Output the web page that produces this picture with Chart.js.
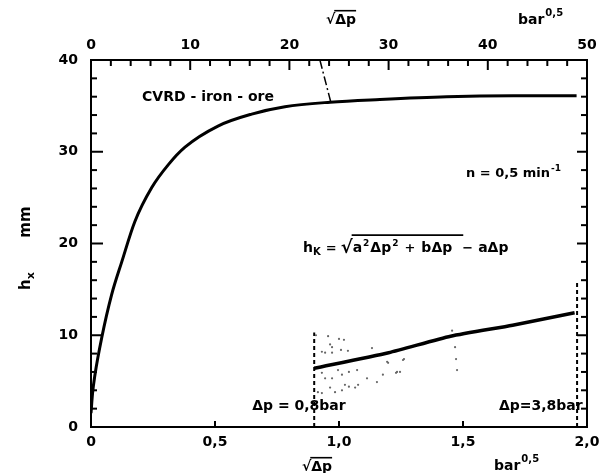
<!doctype html>
<html>
<head>
    <title>CVRD iron ore</title>
    <script src="https://cdn.jsdelivr.net/npm/chart.js"></script>
    <style>
        body { margin: 0; background: #fff; }
        #caixa { position: relative; width: 606px; height: 473px; }
    </style>
</head>
<body>
    <div id="caixa"><canvas id="grafico"></canvas></div>

    <script>
        // curva CVRD - iron - ore (eixo inferior sqrt(dp) em bar^0,5, h em mm)
        var curvaX = [0, 0.006, 0.016, 0.043, 0.083, 0.124, 0.177, 0.245, 0.312, 0.379, 0.512, 0.648, 0.782, 0.964, 1.165, 1.434, 1.702, 1.958];
        var curvaH = [1.5, 3.6, 5.7, 9.7, 14.4, 18.0, 22.4, 26.1, 28.6, 30.5, 32.8, 34.1, 34.9, 35.4, 35.7, 36.0, 36.1, 36.1];

        // reta de ajuste entre dp = 0,8 bar e dp = 3,8 bar
        var retaX = [0.9, 1.2, 1.45, 1.7, 1.95];
        var retaH = [6.4, 8.1, 9.9, 11.1, 12.45];

        // pontos medidos (nuvem cinza)
        var pontosX = [0.907, 0.956, 1.0, 1.02, 0.964, 0.972, 0.931, 0.944, 0.972, 1.008, 1.036, 1.133, 0.996, 1.04, 1.073, 0.931, 0.944, 0.972, 1.012, 1.113, 1.153, 1.177, 1.198, 1.23, 1.246, 1.262, 1.077, 1.065, 1.04, 1.024, 1.012, 0.984, 0.964, 0.931, 0.915, 1.456, 1.468, 1.472, 1.476, 1.194, 1.258, 1.234];
        var pontosH = [10.0, 9.9, 9.6, 9.5, 9.0, 8.7, 8.2, 8.1, 8.1, 8.4, 8.3, 8.6, 6.2, 6.0, 6.2, 5.9, 5.3, 5.3, 5.7, 5.3, 4.9, 5.7, 7.0, 5.9, 6.0, 7.4, 4.6, 4.3, 4.4, 4.6, 4.0, 3.8, 4.3, 3.7, 3.8, 10.5, 8.7, 7.4, 6.2, 7.1, 7.3, 6.0];

        // linhas tracejadas verticais e linha de chamada
        var limiteEsqX = [0.9, 0.9];
        var limiteEsqH = [0, 10.3];
        var limiteDirX = [1.96, 1.96];
        var limiteDirH = [0, 16];
        var chamadaX = [0.923, 0.966];
        var chamadaH = [40, 35.5];

        // eixos
        var eixoInferior = [0, 0.5, 1.0, 1.5, 2.0];
        var eixoSuperior = [0, 10, 20, 30, 40, 50];
        var eixoH = [0, 10, 20, 30, 40];

        function pares(xs, ys) {
            return xs.map(function (x, i) { return { x: x, y: ys[i] }; });
        }

        var FONTE = '"DejaVu Sans", sans-serif';
        function fonte(tam) { return 'bold ' + tam + 'px ' + FONTE; }

        // escreve pedacos de texto em sequencia: [texto, tamanho, deslocamento vertical, espaco antes]
        function escreve(ctx, x, y, partes) {
            var inicio = [];
            partes.forEach(function (p) {
                x += p[3] || 0;
                inicio.push(x);
                ctx.font = fonte(p[1]);
                ctx.fillText(p[0], x, y + (p[2] || 0));
                x += ctx.measureText(p[0]).width;
            });
            inicio.push(x);
            return inicio;
        }

        function linha(ctx, x1, y1, x2, y2) {
            ctx.beginPath();
            ctx.moveTo(x1, y1);
            ctx.lineTo(x2, y2);
            ctx.stroke();
        }

        // raiz de dp com traco em cima
        function raizDp(ctx, xc, y, tam) {
            ctx.font = fonte(tam);
            var w1 = ctx.measureText('√').width;
            var w2 = ctx.measureText('Δp').width;
            var x = xc - (w1 + w2) / 2;
            ctx.fillText('√', x, y);
            ctx.fillText('Δp', x + w1, y);
            ctx.lineWidth = 1.6;
            linha(ctx, x + w1 - 1, y - tam * 0.95, x + w1 + w2, y - tam * 0.95);
        }

        var ticksDentro = {
            id: 'ticksDentro',
            afterDatasetsDraw: function (chart) {
                var ctx = chart.ctx, a = chart.chartArea, s = chart.scales;
                ctx.save();
                ctx.strokeStyle = '#000';
                ctx.lineWidth = 2;
                s.x2.ticks.forEach(function (t) {
                    var px = s.x2.getPixelForValue(t.value);
                    linha(ctx, px, a.top, px, a.top + (t.value % 10 === 0 ? 10 : 6));
                });
                s.x.ticks.forEach(function (t) {
                    var px = s.x.getPixelForValue(t.value);
                    linha(ctx, px, a.bottom, px, a.bottom - 6);
                });
                s.y.ticks.forEach(function (t) {
                    var py = s.y.getPixelForValue(t.value);
                    linha(ctx, a.left, py, a.left + (t.value % 10 === 0 ? 12 : 6), py);
                });
                s.y2.ticks.forEach(function (t) {
                    var py = s.y2.getPixelForValue(t.value);
                    linha(ctx, a.right, py, a.right - (t.value % 10 === 0 ? 10 : 6), py);
                });
                ctx.restore();
            }
        };

        var textos = {
            id: 'textos',
            afterDraw: function (chart) {
                var ctx = chart.ctx, s = chart.scales;
                ctx.save();
                ctx.fillStyle = '#000';
                ctx.strokeStyle = '#000';
                ctx.textBaseline = 'alphabetic';
                ctx.textAlign = 'left';

                ctx.font = fonte(14);
                ctx.fillText('CVRD - iron - ore', s.x.getPixelForValue(0.206), s.y.getPixelForValue(36.1) + 5);

                escreve(ctx, s.x.getPixelForValue(1.512), s.y.getPixelForValue(27.8) + 5, [
                    ['n = 0,5 min', 13, 0, 0], ['-1', 9, -6, 1]
                ]);

                var bx = escreve(ctx, s.x.getPixelForValue(0.855), s.y.getPixelForValue(19.6) + 5, [
                    ['h', 14, 0, 0], ['K', 10, 3, 0], ['=', 13, 0, 5], ['√', 18, 1, 4],
                    ['a', 14, 0, 0], ['2', 9, -6, 1], ['Δp', 14, 0, 1], ['2', 9, -6, 1],
                    ['+', 13, 0, 6], ['bΔp', 14, 0, 6], ['−', 13, 0, 10], ['aΔp', 14, 0, 5]
                ]);
                ctx.lineWidth = 1.6;
                var ytraco = s.y.getPixelForValue(19.6) + 5 - 17;
                linha(ctx, bx[4] - 1, ytraco, bx[10] + 1, ytraco);

                var ybase = s.y.getPixelForValue(2.4) + 5;
                ctx.font = fonte(14);
                ctx.fillText('Δp = 0,8bar', s.x.getPixelForValue(0.65), ybase);
                ctx.fillText('Δp=3,8bar', s.x.getPixelForValue(1.645), ybase);

                // titulos dos eixos x
                raizDp(ctx, 317, 471, 14);
                raizDp(ctx, 341, 24, 14);
                escreve(ctx, 494, 470, [['bar', 14, 0, 0], ['0,5', 10, -8, 1]]);
                escreve(ctx, 518, 24, [['bar', 14, 0, 0], ['0,5', 10, -8, 1]]);

                // titulo do eixo y, girado
                ctx.translate(30, 0);
                ctx.rotate(-Math.PI / 2);
                ctx.textAlign = 'left';
                ctx.font = fonte(15);
                var wmm = ctx.measureText('mm').width;
                ctx.fillText('mm', -222 - wmm / 2, 0);
                escreve(ctx, -290, 0, [['h', 15, 0, 0], ['x', 11, 4, 0]]);
                ctx.restore();
            }
        };

        var eixoFonte = { family: FONTE, size: 14, weight: 'bold' };
        function virgula(v) { return v === 0 ? '0' : v.toFixed(1).replace('.', ','); }
        function semSobra(sc) { sc.paddingLeft = 0; sc.paddingRight = 0; }

        var grafico = new Chart(document.getElementById('grafico'), {
            type: 'scatter',
            data: {
                datasets: [
                    { data: pares(curvaX, curvaH), showLine: true, borderColor: '#000', borderWidth: 3, pointRadius: 0, cubicInterpolationMode: 'monotone' },
                    { data: pares(retaX, retaH), showLine: true, borderColor: '#000', borderWidth: 3.5, pointRadius: 0, tension: 0.2 },
                    { data: pares(pontosX, pontosH), backgroundColor: '#666', borderWidth: 0, pointRadius: 1.1 },
                    { data: pares(limiteEsqX, limiteEsqH), showLine: true, borderColor: '#000', borderWidth: 2, borderDash: [4, 3], pointRadius: 0 },
                    { data: pares(limiteDirX, limiteDirH), showLine: true, borderColor: '#000', borderWidth: 2, borderDash: [4, 3], pointRadius: 0 },
                    { data: pares(chamadaX, chamadaH), showLine: true, borderColor: '#000', borderWidth: 1.5, borderDash: [9, 3, 2, 3], pointRadius: 0 }
                ]
            },
            options: {
                responsive: true,
                maintainAspectRatio: false,
                animation: false,
                layout: { padding: 0 },
                plugins: { legend: { display: false }, tooltip: { enabled: false } },
                scales: {
                    x: {
                        type: 'linear', position: 'bottom', min: 0, max: 2,
                        afterBuildTicks: function (sc) { sc.ticks = eixoInferior.map(function (v) { return { value: v }; }); },
                        ticks: { callback: virgula, font: eixoFonte, color: '#000', padding: 7, maxRotation: 0, autoSkip: false },
                        grid: { display: false, drawTicks: false },
                        border: { color: '#000', width: 2 },
                        afterFit: function (sc) { sc.height = 46; semSobra(sc); }
                    },
                    x2: {
                        type: 'linear', position: 'top', min: 0, max: 50,
                        ticks: { stepSize: 2, autoSkip: false, maxRotation: 0, font: eixoFonte, color: '#000', padding: 6,
                            callback: function (v) { return eixoSuperior.indexOf(v) >= 0 ? String(v) : ''; } },
                        grid: { display: false, drawTicks: false },
                        border: { color: '#000', width: 2 },
                        afterFit: function (sc) { sc.height = 60; semSobra(sc); }
                    },
                    y: {
                        type: 'linear', position: 'left', min: 0, max: 40,
                        ticks: { stepSize: 2, autoSkip: false, font: eixoFonte, color: '#000', padding: 13,
                            callback: function (v) { return eixoH.indexOf(v) >= 0 ? String(v) : ''; } },
                        grid: { display: false, drawTicks: false },
                        border: { color: '#000', width: 2 },
                        afterFit: function (sc) { sc.width = 91; }
                    },
                    y2: {
                        type: 'linear', position: 'right', min: 0, max: 40,
                        ticks: { stepSize: 2, display: false },
                        grid: { display: false, drawTicks: false },
                        border: { color: '#000', width: 2 },
                        afterFit: function (sc) { sc.width = 19; }
                    }
                }
            },
            plugins: [ticksDentro, textos]
        });
    </script>
</body>
</html>
